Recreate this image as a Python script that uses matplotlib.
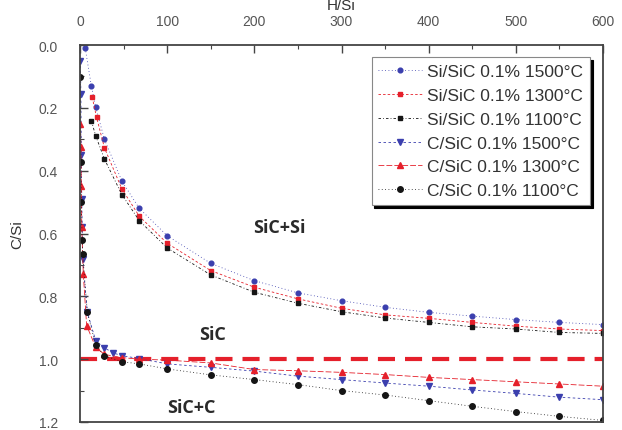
import matplotlib
matplotlib.use("Agg")
import matplotlib.pyplot as plt
from matplotlib.ticker import MultipleLocator

# ---------------- data ----------------
# Si/SiC series (upper curves)
si_1500_x = [6, 13, 18, 28, 48, 68, 100, 150, 200, 250, 300, 350, 400, 450, 500, 550, 600]
si_1500_y = [0.01, 0.13, 0.198, 0.30, 0.433, 0.52, 0.607, 0.695, 0.75, 0.789, 0.814, 0.835, 0.851, 0.863, 0.874, 0.883, 0.89]
si_1300_x = [14, 19, 28, 48, 68, 100, 150, 200, 250, 300, 350, 400, 450, 500, 550, 600]
si_1300_y = [0.166, 0.23, 0.327, 0.458, 0.545, 0.631, 0.718, 0.771, 0.808, 0.838, 0.859, 0.87, 0.883, 0.895, 0.904, 0.909]
si_1100_x = [13, 18, 28, 48, 68, 100, 150, 200, 250, 300, 350, 400, 450, 500, 550, 600]
si_1100_y = [0.241, 0.289, 0.363, 0.476, 0.559, 0.646, 0.732, 0.787, 0.822, 0.849, 0.869, 0.883, 0.897, 0.904, 0.915, 0.918]

# C/SiC series (lower curves)
c_1500_x = [0.5, 1, 1.5, 2, 2.5, 3, 8.4, 18, 28, 38, 48, 68, 100, 150, 200, 250, 300, 350, 400, 450, 500, 550, 600]
c_1500_y = [0.05, 0.156, 0.35, 0.49, 0.58, 0.68, 0.851, 0.941, 0.964, 0.98, 0.989, 0.998, 1.015, 1.026, 1.038, 1.054, 1.065, 1.076, 1.086, 1.098, 1.109, 1.121, 1.129]
c_1300_x = [0.5, 1, 1.5, 2, 3.8, 7.6, 18, 28, 48, 68, 100, 150, 200, 250, 300, 350, 400, 450, 500, 550, 600]
c_1300_y = [0.25, 0.326, 0.45, 0.58, 0.729, 0.893, 0.962, 0.985, 0.995, 1.0, 1.003, 1.012, 1.033, 1.037, 1.042, 1.049, 1.058, 1.065, 1.072, 1.079, 1.086]
c_1100_x = [0.5, 1, 1.5, 2.5, 3, 8.4, 18, 28, 48, 68, 100, 150, 200, 250, 300, 350, 400, 450, 500, 550, 600]
c_1100_y = [0.103, 0.373, 0.5, 0.62, 0.665, 0.851, 0.955, 0.989, 1.008, 1.015, 1.031, 1.05, 1.065, 1.081, 1.1, 1.114, 1.132, 1.15, 1.167, 1.182, 1.195]

labels = ["Si/SiC 0.1% 1500°C", "Si/SiC 0.1% 1300°C", "Si/SiC 0.1% 1100°C",
          "C/SiC 0.1% 1500°C", "C/SiC 0.1% 1300°C", "C/SiC 0.1% 1100°C"]
x_ticks = [0, 100, 200, 300, 400, 500, 600]
y_ticks = [0.0, 0.2, 0.4, 0.6, 0.8, 1.0, 1.2]
stoich_level = 1.0
region_labels = ["SiC+Si", "SiC", "SiC+C"]
region_pos = [(229, 0.58), (152, 0.92), (128, 1.152)]

# ---------------- style ----------------
plt.rcParams['font.family'] = ['Liberation Sans', 'DejaVu Sans']
BLUE = '#3b3fae'
RED = '#e5202b'
BLACK = '#151515'
GRAY = '#555555'

fig = plt.figure(figsize=(6.22, 4.31), dpi=100)
ax = fig.add_axes([80/622, 1-423/431, 523/622, 377/431])

series = [
    (si_1500_x, si_1500_y, BLUE, 'o', (0, (1, 3)), 3.4),
    (si_1300_x, si_1300_y, RED, 's', (0, (3, 2.5)), 3.2),
    (si_1100_x, si_1100_y, BLACK, 's', (0, (3, 2.5, 1, 2.5)), 3.2),
    (c_1500_x, c_1500_y, BLUE, 'v', (0, (3, 3)), 4.0),
    (c_1300_x, c_1300_y, RED, '^', (0, (7, 2.5)), 4.0),
    (c_1100_x, c_1100_y, BLACK, 'o', (0, (1, 3)), 4.0),
]
for (xs, ys, c, m, ls, ms), lab in zip(series, labels):
    ln, = ax.plot(xs, ys, color=c, marker=m, markersize=ms, linestyle=ls,
                  linewidth=0.6, label=lab, clip_on=True)

ax.axhline(stoich_level, color=RED, linewidth=3, dashes=(4.1, 2.4), zorder=1)

for txt, (tx, ty) in zip(region_labels, region_pos):
    ax.text(tx, ty, txt, ha='center', va='center', fontsize=13, fontweight='bold',
            color='#2a2a2a', family=['Open Sans', 'DejaVu Sans'])

ax.set_xlim(0, 600)
ax.set_ylim(1.2, 0.0)
ax.set_xticks(x_ticks)
ax.set_yticks(y_ticks)
ax.set_yticklabels([f"{v:.1f}" for v in y_ticks])
ax.xaxis.set_minor_locator(MultipleLocator(50))
ax.yaxis.set_minor_locator(MultipleLocator(0.1))
ax.xaxis.tick_top()
ax.xaxis.set_label_position('top')
ax.tick_params(axis='both', which='both', direction='in', colors='#444444',
               labelcolor=GRAY, labelsize=10)
ax.tick_params(axis='x', which='both', top=True, bottom=False, pad=12)
ax.tick_params(axis='y', which='both', left=True, right=False, pad=16)
ax.tick_params(which='major', length=6, width=1.0)
ax.tick_params(which='minor', length=3, width=0.8)
for s in ax.spines.values():
    s.set_color('#444444')
    s.set_linewidth(1.3)

ax.set_xlabel('H/Si', fontsize=11, color='#333333', labelpad=4)
ax.set_ylabel('C/Si', fontsize=11, color='#333333', labelpad=10)

leg = ax.legend(loc='upper right', bbox_to_anchor=((590-80)/523, (423-58)/377),
                borderaxespad=0, fontsize=12.5, frameon=True, fancybox=False,
                shadow={'color': 'black', 'alpha': 1.0}, handlelength=2.5,
                handletextpad=0.3, labelspacing=0.5, borderpad=0.4,
                labelcolor='#333333')
leg.get_frame().set_edgecolor('#888888')
leg.get_frame().set_linewidth(0.8)

fig.savefig('out.png', dpi=100)
